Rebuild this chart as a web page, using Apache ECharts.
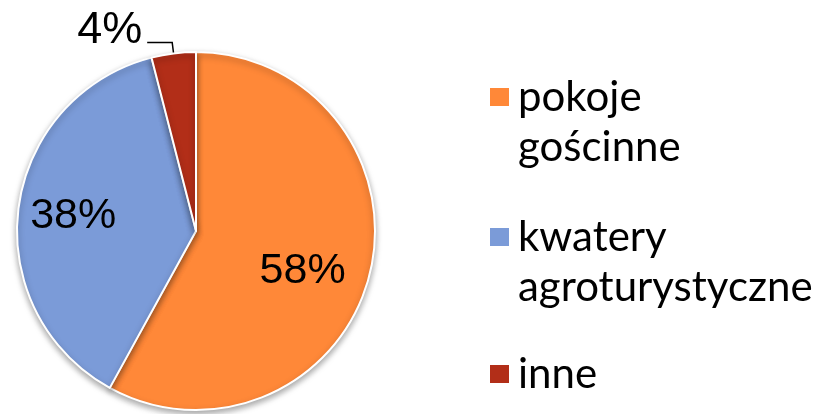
<!DOCTYPE html>
<html>
<head>
<meta charset="utf-8">
<script src="https://cdn.jsdelivr.net/npm/echarts@6/dist/echarts.min.js"></script>
<style>
html,body{margin:0;padding:0;background:#fff;}
#chart{width:823px;height:414px;}
</style>
</head>
<body>
<div id="chart"></div>
<script>
var categories = ['pokoje\ngościnne', 'kwatery\nagroturystyczne', 'inne'];
var values = [58, 38, 4];
var colors = ['#FF8838', '#7B9BD8', '#B22E18'];

var myChart = echarts.init(document.getElementById('chart'));

// one legend per item so the square sits on the first line of text
var legendTops = [17, 157, 344];
var legends = [];
for (var i = 0; i < categories.length; i++) {
	legends.push({
		data: [categories[i]],
		left: 483,
		top: legendTops[i],
		icon: 'rect',
		itemWidth: 21,
		itemHeight: 20,
		itemGap: 0,
		selectedMode: false,
		formatter: function (name) {
			return name.indexOf('\n') >= 0 ? '\n' + name : name;
		},
		textStyle: {
			fontFamily: 'Lato',
			fontSize: 42,
			lineHeight: 50,
			color: '#000',
			padding: [0, 0, 0, 3]
		}
	});
}

var pieData = [];
for (var i = 0; i < categories.length; i++) {
	var item = { name: categories[i], value: values[i], itemStyle: { color: colors[i] } };
	if (i == 2) {
		item.label = { position: 'outside', fontSize: 45 };
		item.labelLine = { show: true, length: 11, length2: 25 };
	}
	pieData.push(item);
}

var offsets = [[17, 17], [-31, -3], [0, -12]];

var option = {
	animation: false,
	legend: legends,
	series: [{
		type: 'pie',
		center: [196, 231],
		radius: 179,
		startAngle: 90,
		clockwise: true,
		itemStyle: {
			borderColor: '#fff',
			borderWidth: 2,
			shadowBlur: 6,
			shadowOffsetY: 3,
			shadowColor: 'rgba(0,0,0,0.35)'
		},
		label: {
			show: true,
			position: 'inside',
			formatter: '{c}%',
			fontFamily: 'Liberation Sans',
			fontSize: 43,
			color: '#000'
		},
		labelLine: {
			lineStyle: { color: '#000', width: 1.5 }
		},
		labelLayout: function (params) {
			var o = offsets[params.dataIndex];
			return { dx: o[0], dy: o[1] };
		},
		emphasis: { disabled: true },
		data: pieData
	}]
};
myChart.setOption(option);
</script>
</body>
</html>
